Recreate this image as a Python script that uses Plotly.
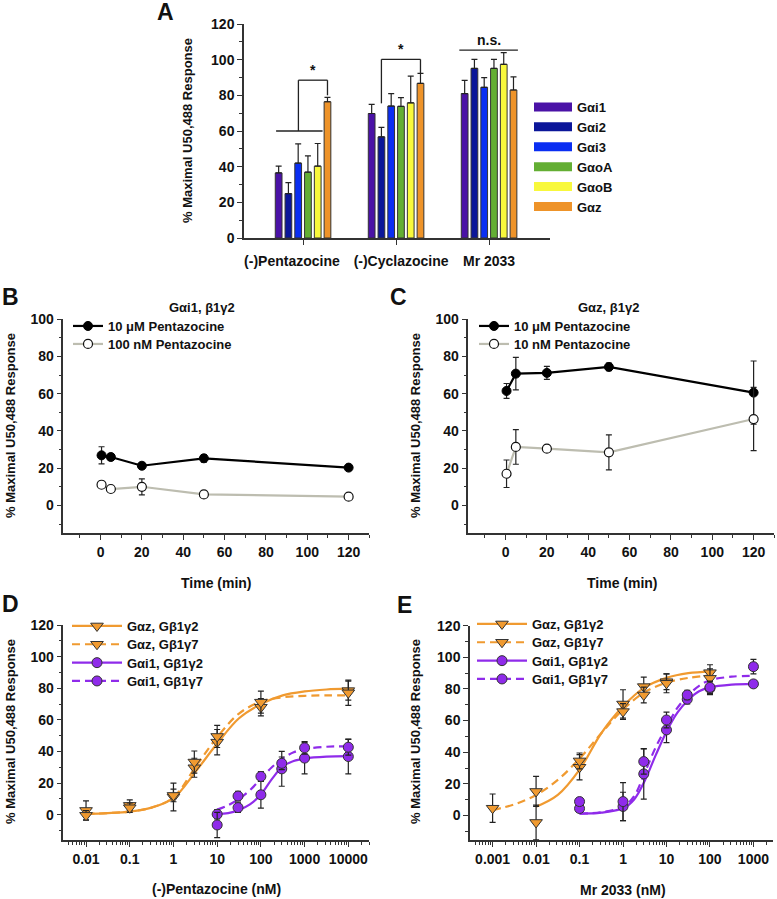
import plotly.graph_objects as go

W, H = 777, 899
FONT = "Liberation Sans, Arial, sans-serif"

# ---------------- data ----------------
# Panel A: % maximal U50,488 response per agonist and G alpha subunit
agonists = ["(-)Pentazocine", "(-)Cyclazocine", "Mr 2033"]
galpha = ["Gαi1", "Gαi2", "Gαi3", "GαoA", "GαoB", "Gαz"]
gai1 = [36.5, 69.8, 81.0]
gai2 = [24.9, 56.7, 95.1]
gai3 = [42.0, 74.0, 84.5]
gaoA = [36.9, 73.8, 95.1]
gaoB = [40.3, 75.8, 97.4]
gaz = [76.4, 86.7, 83.0]
gai1_err = [3.8, 5.1, 7.4]
gai2_err = [6.1, 5.3, 5.1]
gai3_err = [10.8, 7.0, 5.4]
gaoA_err = [9.1, 4.9, 5.1]
gaoB_err = [12.7, 15.0, 6.6]
gaz_err = [2.4, 5.6, 7.4]

# Panel B: Gai1, b1g2 time course
time_b = [0.5, 5, 20, 50, 120]
b_10uM = [26.9, 26.0, 21.3, 25.3, 20.3]
b_10uM_err = [4.6, 1.8, 1.2, 2.0, 1.2]
b_100nM = [11.1, 8.8, 10.0, 5.9, 4.7]
b_100nM_err = [1.0, 1.0, 4.3, 0.8, 0.8]

# Panel C: Gaz, b1g2 time course
time_c = [0.5, 5, 20, 50, 120]
c_10uM = [61.5, 70.8, 71.2, 74.4, 60.6]
c_10uM_err = [4.0, 8.7, 3.5, 2.0, 17.0]
c_10nM = [17.0, 31.4, 30.5, 28.5, 46.4]
c_10nM_err = [7.4, 9.3, 1.5, 9.4, 17.0]

# Panel D: (-)Pentazocine concentration response
conc_dz = [0.01, 0.1, 1, 3, 10, 100, 10000]
dz_g2 = [2.7, 5.9, 11.2, 29.7, 45.9, 68.0, 78.5]
dz_g2_err = [6.0, 3.5, 8.8, 6.0, 8.0, 5.5, 6.0]
dz_g7 = [-0.4, 4.4, 12.2, 33.3, 49.5, 71.2, 77.1]
dz_g7_err = [3.0, 3.0, 4.0, 7.0, 7.0, 7.0, 8.0]
conc_di = [10, 30, 100, 300, 1000, 10000]
di_g2 = [0.3, 4.5, 12.6, 29.0, 35.8, 36.8]
di_g2_err = [3.0, 3.0, 8.5, 11.0, 10.0, 11.0]
di_g7 = [-6.5, 11.8, 24.2, 32.5, 42.3, 42.7]
di_g7_err = [8.0, 3.0, 3.0, 4.0, 4.0, 5.0]
# fitted curves
fit_dz_x = [0.01, 0.0316, 0.1, 0.316, 1, 3.16, 10, 31.6, 100, 316, 1000, 3162, 10000]
fit_dz_g2 = [0.5, 1.0, 2.0, 4.5, 10.5, 27, 45, 61, 70, 75.5, 78, 79.2, 79.7]
fit_dz_g7 = [0.5, 1.0, 2.0, 4.5, 11, 30, 49, 64, 71.5, 74.3, 75.2, 75.5, 75.5]
fit_di_x = [10, 17.8, 31.6, 56.2, 100, 178, 316, 562, 1000, 3162, 10000]
fit_di_g2 = [0.4, 1.0, 3.0, 6.5, 12.8, 22.5, 30.5, 34, 35.5, 36.7, 37]
fit_di_g7 = [3.2, 6, 10, 15.5, 22.7, 30, 35.5, 39.5, 41.5, 43, 43.2]

# Panel E: Mr 2033 concentration response
conc_ez2 = [0.01, 0.1, 1, 3, 10, 100]
ez_g2 = [-4.4, 30.5, 70.5, 81.5, 84.6, 90.3]
ez_g2_err = [11.0, 8.0, 9.0, 6.0, 5.0, 5.0]
conc_ez7 = [0.001, 0.01, 0.1, 1, 3, 10, 100]
ez_g7 = [4.6, 15.2, 34.5, 65.7, 76.2, 83.6, 86.7]
ez_g7_err = [9.0, 9.5, 5.0, 5.0, 5.0, 6.0, 6.0]
conc_ei = [0.1, 1, 3, 10, 30, 100, 1000]
ei_g2 = [4.4, 5.7, 26.3, 54.1, 73.5, 80.4, 83.2]
ei_g2_err = [2.0, 9.0, 16.0, 8.0, 3.0, 4.0, 2.0]
ei_g7 = [8.8, 8.8, 34.1, 60.4, 76.2, 81.0, 94.1]
ei_g7_err = [2.0, 12.0, 8.0, 5.0, 3.0, 4.0, 4.6]
fit_ez2_x = [0.01, 0.0316, 0.1, 0.316, 1, 3.16, 10, 31.6, 100]
fit_ez2 = [5.5, 13, 29, 52, 69, 81, 87, 90, 91]
fit_ez7_x = [0.001, 0.00316, 0.01, 0.0316, 0.1, 0.316, 1, 3.16, 10, 31.6, 100]
fit_ez7 = [3.5, 7, 13, 22.5, 36, 52, 67, 78, 84, 87, 88.5]
fit_ei_x = [0.1, 0.316, 1, 1.78, 3.16, 5.62, 10, 17.8, 31.6, 56.2, 100, 316, 1000]
fit_ei_g2 = [1.2, 1.8, 4.5, 10, 22, 38, 53, 65, 73, 78.5, 81, 82.7, 83.2]
fit_ei_g7 = [1.2, 2, 5.5, 12, 27, 43, 56, 68, 76, 82, 85.5, 87.8, 88.3]

# ---------------- style ----------------
bar_colors = ["#4A12A6", "#0B1699", "#0A2EF2", "#63AE33", "#F8F83C", "#EE9329"]
ORANGE = "#F09A30"
PURPLE = "#8F2BEA"
GREY = "#BDBDB0"


def px_x(p):
    return p / W


def px_y(p):
    return 1 - p / H


fig = go.Figure()
legends = {}


def new_legend(x, top, **kw):
    name = "legend%d" % (len(legends) + 2)
    legends[name] = dict(x=px_x(x), y=px_y(top), **kw)
    return name


# ----- panel A -----
bar_means = [gai1, gai2, gai3, gaoA, gaoB, gaz]
bar_errs = [gai1_err, gai2_err, gai3_err, gaoA_err, gaoB_err, gaz_err]
for name, col, vals, errs in zip(galpha, bar_colors, bar_means, bar_errs):
    fig.add_trace(go.Bar(
        x=list(range(len(agonists))), y=vals, name=name, showlegend=False,
        marker=dict(color=col, line=dict(color="#333", width=1)),
        error_y=dict(type="data", array=errs, arrayminus=[0] * len(errs), symmetric=False,
                     color="#222", thickness=1.2, width=3),
        xaxis="x", yaxis="y"))
    # wide legend swatch
    fig.add_trace(go.Scatter(x=[None], y=[None], mode="lines", name=name,
                             line=dict(color=col, width=9), legend="legend",
                             xaxis="x", yaxis="y"))


# ----- panel B / C -----
def time_course(t, filled, filled_err, opened, opened_err, names, ax, lx, rows):
    leg1 = new_legend(lx, rows[0] - 15)
    leg2 = new_legend(lx, rows[1] - 15)
    fig.add_trace(go.Scatter(
        x=t, y=filled, name=names[0], mode="lines+markers",
        line=dict(color="#000", width=2.2),
        marker=dict(color="#000", size=9, line=dict(color="#000", width=1)),
        error_y=dict(type="data", array=filled_err, color="#222", thickness=1.2, width=3),
        xaxis="x" + ax, yaxis="y" + ax, legend=leg1))
    fig.add_trace(go.Scatter(
        x=t, y=opened, name=names[1], mode="lines+markers",
        line=dict(color=GREY, width=2.2),
        marker=dict(color="white", size=9, line=dict(color="#111", width=1.2)),
        error_y=dict(type="data", array=opened_err, color="#222", thickness=1.2, width=3),
        xaxis="x" + ax, yaxis="y" + ax, legend=leg2))


time_course(time_b, b_10uM, b_10uM_err, b_100nM, b_100nM_err,
            ["10 μM Pentazocine", "100 nM Pentazocine"], "2", 68, [326, 344])
time_course(time_c, c_10uM, c_10uM_err, c_10nM, c_10nM_err,
            ["10 μM Pentazocine", "10 nM Pentazocine"], "3", 474, [326, 344])


# ----- panel D / E -----
def dose(ax, lx, rows, curves, points):
    for cx, cy, col, dash in curves:
        fig.add_trace(go.Scatter(x=cx, y=cy, mode="lines", line_shape="spline",
                                 line=dict(color=col, width=2.2, dash=dash),
                                 showlegend=False, xaxis="x" + ax, yaxis="y" + ax))
    for px_, py_, err, col, sym, sz in points:
        fig.add_trace(go.Scatter(x=px_, y=py_, mode="markers", showlegend=False,
                                 marker=dict(color=col, symbol=sym, size=sz,
                                             line=dict(color="#333", width=1)),
                                 error_y=dict(type="data", array=err, color="#222",
                                              thickness=1.2, width=3),
                                 xaxis="x" + ax, yaxis="y" + ax))
    entries = [("Gαz, Gβ1γ2", ORANGE, "solid", "triangle-down", 11),
               ("Gαz, Gβ1γ7", ORANGE, "8px,5px", "triangle-down", 11),
               ("Gαi1, Gβ1γ2", PURPLE, "solid", "circle", 10),
               ("Gαi1, Gβ1γ7", PURPLE, "8px,5px", "circle", 10)]
    for (name, col, dash, sym, sz), row in zip(entries, rows):
        leg = new_legend(lx, row - 14, itemwidth=50)
        fig.add_trace(go.Scatter(x=[None], y=[None], mode="lines+markers", name=name,
                                 line=dict(color=col, width=2.2, dash=dash),
                                 marker=dict(color=col, symbol=sym, size=sz,
                                             line=dict(color="#333", width=1)),
                                 legend=leg, xaxis="x" + ax, yaxis="y" + ax))


dose("4", 67, [625, 643.3, 661.7, 680],
     [(fit_dz_x, fit_dz_g2, ORANGE, "solid"), (fit_dz_x, fit_dz_g7, ORANGE, "8px,5px"),
      (fit_di_x, fit_di_g2, PURPLE, "solid"), (fit_di_x, fit_di_g7, PURPLE, "8px,5px")],
     [(conc_dz, dz_g2, dz_g2_err, ORANGE, "triangle-down", 11),
      (conc_dz, dz_g7, dz_g7_err, ORANGE, "triangle-down", 11),
      (conc_di, di_g2, di_g2_err, PURPLE, "circle", 10),
      (conc_di, di_g7, di_g7_err, PURPLE, "circle", 10)])
dose("5", 472, [623, 641.3, 659.7, 678],
     [(fit_ez2_x, fit_ez2, ORANGE, "solid"), (fit_ez7_x, fit_ez7, ORANGE, "8px,5px"),
      (fit_ei_x, fit_ei_g2, PURPLE, "solid"), (fit_ei_x, fit_ei_g7, PURPLE, "8px,5px")],
     [(conc_ez2, ez_g2, ez_g2_err, ORANGE, "triangle-down", 11),
      (conc_ez7, ez_g7, ez_g7_err, ORANGE, "triangle-down", 11),
      (conc_ei, ei_g2, ei_g2_err, PURPLE, "circle", 10),
      (conc_ei, ei_g7, ei_g7_err, PURPLE, "circle", 10)])

# ---------------- axes ----------------
tickfont = dict(family=FONT, size=14, color="#111", weight="bold")
base = dict(showline=True, linecolor="#333", linewidth=1.5, ticks="outside", ticklen=5,
            tickwidth=1.2, tickcolor="#333", showgrid=False, zeroline=False,
            tickfont=tickfont, fixedrange=True, tickangle=0)
minor_lin = dict(ticks="outside", ticklen=3, tickwidth=1.2, tickcolor="#333", showgrid=False)


def dom_x(a, b):
    return [px_x(a), px_x(b)]


def dom_y(top, bottom):
    return [px_y(bottom), px_y(top)]


def log_minor(lo, hi):
    return dict(ticks="outside", ticklen=3, tickwidth=1, tickcolor="#333", showgrid=False,
                tickvals=[m * 10 ** e for e in range(lo, hi) for m in range(2, 10)])


fig.update_layout(
    # category labels sit a little apart from their tick marks, as in the original
    xaxis=dict(base, domain=dom_x(244, 550), range=[-0.635, 2.655],
               tickvals=[-0.12, 1.054, 2.0], ticktext=agonists, ticklen=0,
               ticklabelstandoff=9, anchor="y",
               minor=dict(ticks="outside", ticklen=5, tickwidth=1.2, tickcolor="#333",
                          showgrid=False, tickvals=[0, 1, 2])),
    yaxis=dict(base, domain=dom_y(24, 238), range=[0, 120], dtick=20, anchor="x",
               minor=dict(minor_lin, tickvals=list(range(10, 120, 20)))),
    xaxis2=dict(base, domain=dom_x(63.3, 369.3), range=[-18, 130], tickvals=list(range(0, 121, 20)),
                anchor="y2", minor=dict(minor_lin, tickvals=list(range(-10, 131, 20)))),
    yaxis2=dict(base, domain=dom_y(319.3, 533.3), range=[-15, 100], tickvals=list(range(0, 101, 20)),
                anchor="x2", minor=dict(minor_lin, tickvals=list(range(-10, 100, 20)))),
    xaxis3=dict(base, domain=dom_x(468.3, 774.3), range=[-18, 130], tickvals=list(range(0, 121, 20)),
                anchor="y3", minor=dict(minor_lin, tickvals=list(range(-10, 131, 20)))),
    yaxis3=dict(base, domain=dom_y(319.3, 533.3), range=[-15, 100], tickvals=list(range(0, 101, 20)),
                anchor="x3", minor=dict(minor_lin, tickvals=list(range(-10, 100, 20)))),
    xaxis4=dict(base, type="log", domain=dom_x(63.3, 369.3), range=[-2.52, 4.48],
                tickvals=[0.01, 0.1, 1, 10, 100, 1000, 10000],
                ticktext=["0.01", "0.1", "1", "10", "100", "1000", "10000"],
                anchor="y4", minor=log_minor(-3, 5)),
    yaxis4=dict(base, domain=dom_y(625, 840), range=[-16, 120], tickvals=list(range(0, 121, 20)),
                anchor="x4", minor=dict(minor_lin, tickvals=list(range(-10, 120, 20)))),
    xaxis5=dict(base, type="log", domain=dom_x(470, 773), range=[-3.52, 3.45],
                tickvals=[0.001, 0.01, 0.1, 1, 10, 100, 1000],
                ticktext=["0.001", "0.01", "0.1", "1", "10", "100", "1000"],
                anchor="y5", minor=log_minor(-4, 4)),
    yaxis5=dict(base, domain=dom_y(625.7, 840), range=[-15.5, 120], tickvals=list(range(0, 121, 20)),
                anchor="x5", minor=dict(minor_lin, tickvals=list(range(-10, 120, 20)))),
)

# ---------------- legends ----------------
legfont = dict(family=FONT, size=13, color="#111", weight="bold")
leg_common = dict(font=legfont, bgcolor="rgba(0,0,0,0)", borderwidth=0, xanchor="left",
                  yanchor="top", tracegroupgap=0)
fig.update_layout(barmode="group", bargap=0.37, bargroupgap=0.31,
                  legend=dict(leg_common, x=px_x(529), y=px_y(92), itemwidth=38))
for name, spec in legends.items():
    fig.update_layout({name: dict(leg_common, **spec)})

# ---------------- significance marks (panel A) ----------------
sig_lines = [
    (-0.29, 60, 0.21, 60), (-0.05, 60, -0.05, 88.5), (-0.05, 88.5, 0.2625, 88.5),
    (0.2625, 88.5, 0.2625, 80),
    (0.8425, 75.5, 0.8425, 100.2), (0.8425, 100.2, 1.2625, 100.2), (1.2625, 100.2, 1.2625, 92.5),
    (1.68, 105.4, 2.31, 105.4),
]
for x0, y0, x1, y1 in sig_lines:
    fig.add_shape(type="line", x0=x0, y0=y0, x1=x1, y1=y1, xref="x", yref="y",
                  line=dict(color="#222", width=1.3))

annots = []


def note(text, x, y, size=14, xref="paper", yref="paper", angle=0, yanchor="middle"):
    annots.append(dict(text=text, x=x, y=y, xref=xref, yref=yref, showarrow=False,
                       textangle=angle, xanchor="center", yanchor=yanchor,
                       font=dict(family=FONT, size=size, color="#111", weight="bold")))


note("*", 0.105, 88.5, xref="x", yref="y", yanchor="bottom")
note("*", 1.05, 100.2, xref="x", yref="y", yanchor="bottom")
note("n.s.", 2.0, 105.4, xref="x", yref="y", yanchor="bottom")

# panel letters
for letter, x, y in [("A", 165, 12), ("B", 10, 297), ("C", 398, 297), ("D", 10, 604), ("E", 404, 605)]:
    note(letter, px_x(x), px_y(y), size=23)

# y titles
ytitle = "% Maximal U50,488 Response"
for x, y in [(187, 131), (10, 426), (415, 426), (10, 732), (415, 732)]:
    note(ytitle, px_x(x), px_y(y), size=13, angle=-90)

# x titles and panel headers
note("Time (min)", px_x(216), px_y(583))
note("Time (min)", px_x(622), px_y(583))
note("(-)Pentazocine (nM)", px_x(217), px_y(889))
note("Mr 2033 (nM)", px_x(623), px_y(890))
note("Gαi1, β1γ2", px_x(202), px_y(307), size=13)
note("Gαz, β1γ2", px_x(608), px_y(307), size=13)

fig.update_layout(annotations=annots, width=W, height=H, margin=dict(l=0, r=0, t=0, b=0),
                  paper_bgcolor="white", plot_bgcolor="white", template="none",
                  font=dict(family=FONT, color="#111"))

# the page's default 8px body margin would push the figure off its intended position
fig.write_html("out.html", config={"displayModeBar": False},
               post_script="document.body.style.margin = '0px';")
